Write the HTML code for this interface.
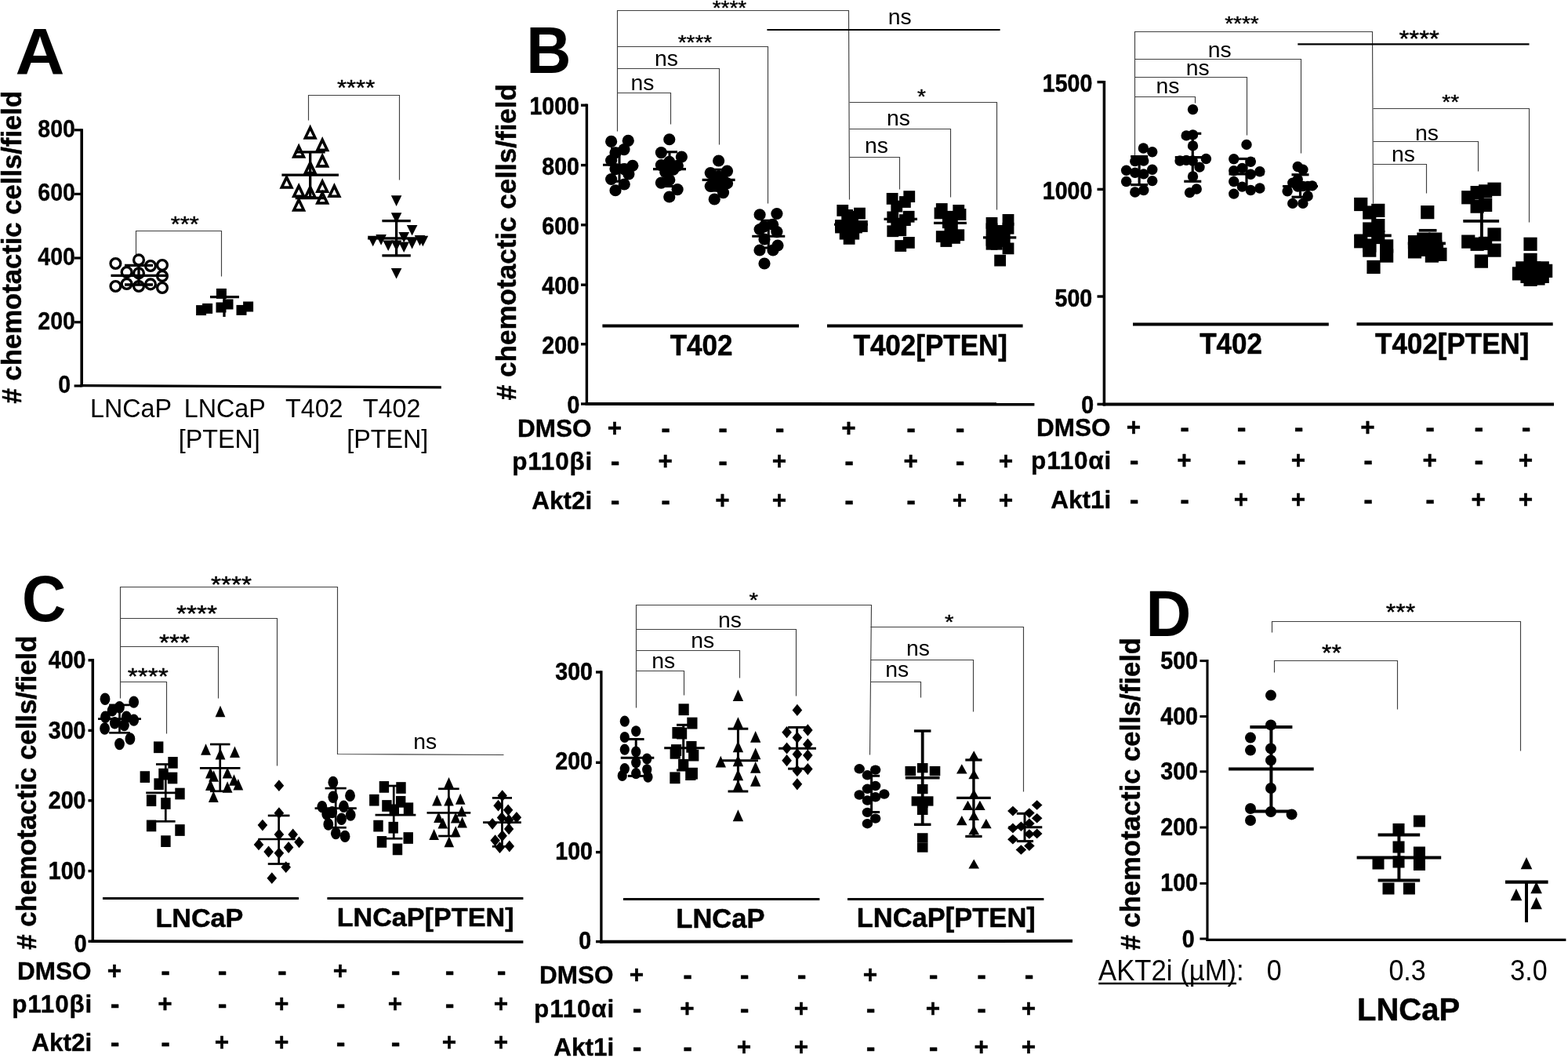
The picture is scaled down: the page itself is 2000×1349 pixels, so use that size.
<!DOCTYPE html>
<html lang="en">
<head>
<meta charset="utf-8">
<title>Chemotaxis figure</title>
<style>
html,body{margin:0;padding:0;background:#fff;}
body{width:2000px;height:1349px;overflow:hidden;font-family:"Liberation Sans",Arial,Helvetica,sans-serif;}
svg{display:block;}
svg text{font-family:"Liberation Sans",Arial,Helvetica,sans-serif;white-space:pre;font-variant-ligatures:none;}
</style>
</head>
<body>
<svg xmlns="http://www.w3.org/2000/svg" width="2000" height="1349" viewBox="0 0 2000 1349" font-family='&quot;Liberation Sans&quot;, Arial, Helvetica, sans-serif' fill="#000">
<text x="0" y="0" font-size="83.5" font-weight="bold" transform="translate(19.52,94.5) scale(1.044,1)">A</text>
<text x="0" y="0" font-size="34.65" font-weight="bold" transform="translate(27,514.41) rotate(-90)" stroke="#000" stroke-width="0.5" stroke-linejoin="round"># chemotactic cells/field</text>
<line x1="104.2" y1="164.2" x2="104.2" y2="493.3" stroke="#000" stroke-width="3.6"/>
<line x1="102.4" y1="491.7" x2="562.8" y2="493.8" stroke="#000" stroke-width="3.2"/>
<line x1="94.6" y1="165.8" x2="104.2" y2="165.8" stroke="#000" stroke-width="3.2"/>
<text x="0" y="0" font-size="29" font-weight="bold" transform="translate(48.31,174.5) scale(0.985,1.09)" stroke="#000" stroke-width="0.3" stroke-linejoin="round">800</text>
<line x1="94.6" y1="247.4" x2="104.2" y2="247.4" stroke="#000" stroke-width="3.2"/>
<text x="0" y="0" font-size="29" font-weight="bold" transform="translate(48.31,256.1) scale(0.985,1.09)" stroke="#000" stroke-width="0.3" stroke-linejoin="round">600</text>
<line x1="94.6" y1="329" x2="104.2" y2="329" stroke="#000" stroke-width="3.2"/>
<text x="0" y="0" font-size="29" font-weight="bold" transform="translate(48.31,337.7) scale(0.985,1.09)" stroke="#000" stroke-width="0.3" stroke-linejoin="round">400</text>
<line x1="94.6" y1="410.8" x2="104.2" y2="410.8" stroke="#000" stroke-width="3.2"/>
<text x="0" y="0" font-size="29" font-weight="bold" transform="translate(48.31,419.5) scale(0.985,1.09)" stroke="#000" stroke-width="0.3" stroke-linejoin="round">200</text>
<line x1="94.6" y1="492" x2="104.2" y2="492" stroke="#000" stroke-width="3.2"/>
<text x="0" y="0" font-size="29" font-weight="bold" transform="translate(74.29,501.1) scale(0.985,1.09)" stroke="#000" stroke-width="0.3" stroke-linejoin="round">0</text>
<text x="114.94" y="532.4" font-size="32.3">LNCaP</text>
<text x="234.74" y="532.4" font-size="32.3">LNCaP</text>
<text x="227.66" y="571.4" font-size="32.3">[PTEN]</text>
<text x="363.97" y="532.4" font-size="32.3">T402</text>
<text x="462.77" y="532.4" font-size="32.3">T402</text>
<text x="442.16" y="571.4" font-size="32.3">[PTEN]</text>
<polyline points="173.5,324.5 173.5,294.5 282.5,294.5 282.5,352.5" fill="none" stroke="#404040" stroke-width="1.15"/>
<text x="0" y="0" font-size="31" transform="translate(217.7,295.18) scale(1,0.9)" stroke="#000" stroke-width="0.45" stroke-linejoin="round">***</text>
<polyline points="393.5,153.5 393.5,121.5 509.5,121.5 509.5,229.5" fill="none" stroke="#404040" stroke-width="1.15"/>
<text x="0" y="0" font-size="31" transform="translate(429.96,120.78) scale(1,0.9)" stroke="#000" stroke-width="0.45" stroke-linejoin="round">****</text>
<text x="0" y="0" font-size="83.5" font-weight="bold" transform="translate(671.25,93) scale(0.95,1)">B</text>
<text x="0" y="0" font-size="35.06" font-weight="bold" transform="translate(658.2,510.21) rotate(-90)" stroke="#000" stroke-width="0.5" stroke-linejoin="round"># chemotactic cells/field</text>
<line x1="748.4" y1="132.5" x2="748.4" y2="517.1" stroke="#000" stroke-width="3.4"/>
<line x1="746.7" y1="515" x2="1319.4" y2="515.4" stroke="#000" stroke-width="4.2"/>
<line x1="741" y1="134.2" x2="748.4" y2="134.2" stroke="#000" stroke-width="3.4"/>
<text x="0" y="0" font-size="29" font-weight="bold" transform="translate(675.46,146.2) scale(0.985,1.09)" stroke="#000" stroke-width="0.5" stroke-linejoin="round">1000</text>
<line x1="741" y1="210.6" x2="748.4" y2="210.6" stroke="#000" stroke-width="3.4"/>
<text x="0" y="0" font-size="29" font-weight="bold" transform="translate(691.31,222.6) scale(0.985,1.09)" stroke="#000" stroke-width="0.5" stroke-linejoin="round">800</text>
<line x1="741" y1="286.8" x2="748.4" y2="286.8" stroke="#000" stroke-width="3.4"/>
<text x="0" y="0" font-size="29" font-weight="bold" transform="translate(691.31,298.8) scale(0.985,1.09)" stroke="#000" stroke-width="0.5" stroke-linejoin="round">600</text>
<line x1="741" y1="363.2" x2="748.4" y2="363.2" stroke="#000" stroke-width="3.4"/>
<text x="0" y="0" font-size="29" font-weight="bold" transform="translate(691.31,375.2) scale(0.985,1.09)" stroke="#000" stroke-width="0.5" stroke-linejoin="round">400</text>
<line x1="741" y1="438.8" x2="748.4" y2="438.8" stroke="#000" stroke-width="3.4"/>
<text x="0" y="0" font-size="29" font-weight="bold" transform="translate(691.31,450.8) scale(0.985,1.09)" stroke="#000" stroke-width="0.5" stroke-linejoin="round">200</text>
<line x1="741" y1="515" x2="748.4" y2="515" stroke="#000" stroke-width="3.4"/>
<text x="0" y="0" font-size="29" font-weight="bold" transform="translate(723.49,527) scale(0.985,1.09)" stroke="#000" stroke-width="0.5" stroke-linejoin="round">0</text>
<polyline points="787.5,167.5 787.5,13.5 1082.5,13.5 1083.5,254.5" fill="none" stroke="#404040" stroke-width="1.15"/>
<polyline points="787.5,59.5 979.5,59.5 979.5,259.5" fill="none" stroke="#404040" stroke-width="1.15"/>
<polyline points="787.5,87.5 917.5,87.5 917.5,184.5" fill="none" stroke="#404040" stroke-width="1.15"/>
<polyline points="787.5,118.5 855.5,118.5 855.5,158.5" fill="none" stroke="#404040" stroke-width="1.15"/>
<polyline points="1083.5,130.5 1271.5,130.5 1271.5,267.5" fill="none" stroke="#404040" stroke-width="1.15"/>
<polyline points="1083.5,164.5 1212.5,164.5 1212.5,251.5" fill="none" stroke="#404040" stroke-width="1.15"/>
<polyline points="1083.5,200.5 1147.5,200.5 1147.5,241.5" fill="none" stroke="#404040" stroke-width="1.15"/>
<line x1="978.4" y1="38" x2="1275.6" y2="38" stroke="#000" stroke-width="2.2"/>
<text x="0" y="0" font-size="28" transform="translate(908.7,18.62) scale(1,0.9)" stroke="#000" stroke-width="0.45" stroke-linejoin="round">****</text>
<text x="0" y="0" font-size="28" transform="translate(864.7,63.12) scale(1,0.9)" stroke="#000" stroke-width="0.45" stroke-linejoin="round">****</text>
<text x="0" y="0" font-size="27" transform="translate(835.08,84.4) scale(1.05,1)">ns</text>
<text x="0" y="0" font-size="27" transform="translate(804.38,115.4) scale(1.05,1)">ns</text>
<text x="0" y="0" font-size="27" transform="translate(1132.78,31.4) scale(1.05,1)">ns</text>
<text x="0" y="0" font-size="28" transform="translate(1170.04,131.72) scale(1,0.9)" stroke="#000" stroke-width="0.45" stroke-linejoin="round">*</text>
<text x="0" y="0" font-size="27" transform="translate(1131.08,160) scale(1.05,1)">ns</text>
<text x="0" y="0" font-size="27" transform="translate(1102.98,195.4) scale(1.05,1)">ns</text>
<line x1="768.4" y1="415.6" x2="1019" y2="415.6" stroke="#000" stroke-width="4"/>
<line x1="1055" y1="415.6" x2="1304.6" y2="415.6" stroke="#000" stroke-width="4"/>
<text x="0" y="0" font-size="34" font-weight="bold" transform="translate(854.65,452.6) scale(1.03,1.075)" stroke="#000" stroke-width="0.5" stroke-linejoin="round">T402</text>
<text x="0" y="0" font-size="34" font-weight="bold" transform="translate(1088.51,452.6) scale(1.03,1.075)" stroke="#000" stroke-width="0.5" stroke-linejoin="round">T402[PTEN]</text>
<text x="0" y="0" font-size="31.5" font-weight="bold" transform="translate(659.94,557) scale(1,1.02)" stroke="#000" stroke-width="0.4" stroke-linejoin="round">DMSO</text>
<text x="784" y="556" font-size="31.5" font-weight="bold" text-anchor="middle" stroke="#000" stroke-width="0.4" stroke-linejoin="round">+</text>
<text x="849.2" y="558.3" font-size="35.28" font-weight="bold" text-anchor="middle" stroke="#000" stroke-width="0.4" stroke-linejoin="round">-</text>
<text x="922" y="558.3" font-size="35.28" font-weight="bold" text-anchor="middle" stroke="#000" stroke-width="0.4" stroke-linejoin="round">-</text>
<text x="994.6" y="558.3" font-size="35.28" font-weight="bold" text-anchor="middle" stroke="#000" stroke-width="0.4" stroke-linejoin="round">-</text>
<text x="1082.4" y="556" font-size="31.5" font-weight="bold" text-anchor="middle" stroke="#000" stroke-width="0.4" stroke-linejoin="round">+</text>
<text x="1162.2" y="558.3" font-size="35.28" font-weight="bold" text-anchor="middle" stroke="#000" stroke-width="0.4" stroke-linejoin="round">-</text>
<text x="1224.6" y="558.3" font-size="35.28" font-weight="bold" text-anchor="middle" stroke="#000" stroke-width="0.4" stroke-linejoin="round">-</text>
<text x="0" y="0" font-size="31.5" font-weight="bold" transform="translate(653.26,599) scale(1,1.02)" stroke="#000" stroke-width="0.4" stroke-linejoin="round" letter-spacing="0.8">p110βi</text>
<text x="784.6" y="600.3" font-size="35.28" font-weight="bold" text-anchor="middle" stroke="#000" stroke-width="0.4" stroke-linejoin="round">-</text>
<text x="848.6" y="598" font-size="31.5" font-weight="bold" text-anchor="middle" stroke="#000" stroke-width="0.4" stroke-linejoin="round">+</text>
<text x="922" y="600.3" font-size="35.28" font-weight="bold" text-anchor="middle" stroke="#000" stroke-width="0.4" stroke-linejoin="round">-</text>
<text x="994" y="598" font-size="31.5" font-weight="bold" text-anchor="middle" stroke="#000" stroke-width="0.4" stroke-linejoin="round">+</text>
<text x="1083" y="600.3" font-size="35.28" font-weight="bold" text-anchor="middle" stroke="#000" stroke-width="0.4" stroke-linejoin="round">-</text>
<text x="1161.6" y="598" font-size="31.5" font-weight="bold" text-anchor="middle" stroke="#000" stroke-width="0.4" stroke-linejoin="round">+</text>
<text x="1224.6" y="600.3" font-size="35.28" font-weight="bold" text-anchor="middle" stroke="#000" stroke-width="0.4" stroke-linejoin="round">-</text>
<text x="1283" y="598" font-size="31.5" font-weight="bold" text-anchor="middle" stroke="#000" stroke-width="0.4" stroke-linejoin="round">+</text>
<text x="0" y="0" font-size="31.5" font-weight="bold" transform="translate(678.29,649) scale(1,1.02)" stroke="#000" stroke-width="0.4" stroke-linejoin="round">Akt2i</text>
<text x="784.6" y="650.3" font-size="35.28" font-weight="bold" text-anchor="middle" stroke="#000" stroke-width="0.4" stroke-linejoin="round">-</text>
<text x="849.2" y="650.3" font-size="35.28" font-weight="bold" text-anchor="middle" stroke="#000" stroke-width="0.4" stroke-linejoin="round">-</text>
<text x="921.4" y="648" font-size="31.5" font-weight="bold" text-anchor="middle" stroke="#000" stroke-width="0.4" stroke-linejoin="round">+</text>
<text x="994" y="648" font-size="31.5" font-weight="bold" text-anchor="middle" stroke="#000" stroke-width="0.4" stroke-linejoin="round">+</text>
<text x="1083" y="650.3" font-size="35.28" font-weight="bold" text-anchor="middle" stroke="#000" stroke-width="0.4" stroke-linejoin="round">-</text>
<text x="1162.2" y="650.3" font-size="35.28" font-weight="bold" text-anchor="middle" stroke="#000" stroke-width="0.4" stroke-linejoin="round">-</text>
<text x="1224" y="648" font-size="31.5" font-weight="bold" text-anchor="middle" stroke="#000" stroke-width="0.4" stroke-linejoin="round">+</text>
<text x="1283" y="648" font-size="31.5" font-weight="bold" text-anchor="middle" stroke="#000" stroke-width="0.4" stroke-linejoin="round">+</text>
<line x1="1408.4" y1="102.9" x2="1408.4" y2="517.4" stroke="#000" stroke-width="3.5"/>
<line x1="1406.65" y1="515.4" x2="1982" y2="515.6" stroke="#000" stroke-width="4"/>
<line x1="1399.5" y1="104.6" x2="1408.4" y2="104.6" stroke="#000" stroke-width="3.4"/>
<text x="0" y="0" font-size="29" font-weight="bold" transform="translate(1329.76,116.6) scale(0.985,1.09)" stroke="#000" stroke-width="0.5" stroke-linejoin="round">1500</text>
<line x1="1399.5" y1="241.4" x2="1408.4" y2="241.4" stroke="#000" stroke-width="3.4"/>
<text x="0" y="0" font-size="29" font-weight="bold" transform="translate(1329.76,254) scale(0.985,1.09)" stroke="#000" stroke-width="0.5" stroke-linejoin="round">1000</text>
<line x1="1399.5" y1="378" x2="1408.4" y2="378" stroke="#000" stroke-width="3.4"/>
<text x="0" y="0" font-size="29" font-weight="bold" transform="translate(1345.61,391) scale(0.985,1.09)" stroke="#000" stroke-width="0.5" stroke-linejoin="round">500</text>
<line x1="1399.5" y1="515.4" x2="1408.4" y2="515.4" stroke="#000" stroke-width="3.4"/>
<text x="0" y="0" font-size="29" font-weight="bold" transform="translate(1379.19,527.4) scale(0.985,1.09)" stroke="#000" stroke-width="0.5" stroke-linejoin="round">0</text>
<polyline points="1447.5,198.5 1447.5,40.5 1750.5,40.5 1751.5,259.5" fill="none" stroke="#404040" stroke-width="1.15"/>
<polyline points="1447.5,75.5 1659.5,75.5 1659.5,195.5" fill="none" stroke="#404040" stroke-width="1.15"/>
<polyline points="1447.5,98.5 1590.5,98.5 1590.5,172.5" fill="none" stroke="#404040" stroke-width="1.15"/>
<polyline points="1447.5,123.5 1524.5,123.5 1524.5,131.5" fill="none" stroke="#404040" stroke-width="1.15"/>
<polyline points="1751.5,138.5 1950.5,138.5 1950.5,283.5" fill="none" stroke="#404040" stroke-width="1.15"/>
<polyline points="1751.5,180.5 1885.5,180.5 1885.5,218.5" fill="none" stroke="#404040" stroke-width="1.15"/>
<polyline points="1751.5,209.5 1819.5,209.5 1819.5,246.5" fill="none" stroke="#404040" stroke-width="1.15"/>
<line x1="1655.3" y1="56.3" x2="1950.5" y2="56.3" stroke="#000" stroke-width="2.2"/>
<text x="0" y="0" font-size="28" transform="translate(1562.19,38.83) scale(1,0.9)" stroke="#000" stroke-width="0.45" stroke-linejoin="round">****</text>
<text x="0" y="0" font-size="27" transform="translate(1540.78,72.8) scale(1.05,1)">ns</text>
<text x="0" y="0" font-size="27" transform="translate(1512.78,96) scale(1.05,1)">ns</text>
<text x="0" y="0" font-size="27" transform="translate(1474.38,119.4) scale(1.05,1)">ns</text>
<text x="0" y="0" font-size="33" transform="translate(1784.5,59.12) scale(1,0.9)" stroke="#000" stroke-width="0.45" stroke-linejoin="round">****</text>
<text x="0" y="0" font-size="28" transform="translate(1839.28,138.82) scale(1,0.9)" stroke="#000" stroke-width="0.45" stroke-linejoin="round">**</text>
<text x="0" y="0" font-size="27" transform="translate(1804.88,178.6) scale(1.05,1)">ns</text>
<text x="0" y="0" font-size="27" transform="translate(1775.08,206.4) scale(1.05,1)">ns</text>
<line x1="1445" y1="413.4" x2="1694.8" y2="413.4" stroke="#000" stroke-width="4"/>
<line x1="1730.5" y1="413.3" x2="1980.7" y2="413.3" stroke="#000" stroke-width="4"/>
<text x="0" y="0" font-size="34" font-weight="bold" transform="translate(1530.15,451) scale(1.03,1.075)" stroke="#000" stroke-width="0.5" stroke-linejoin="round">T402</text>
<text x="0" y="0" font-size="34" font-weight="bold" transform="translate(1754.01,451) scale(1.03,1.075)" stroke="#000" stroke-width="0.5" stroke-linejoin="round">T402[PTEN]</text>
<text x="0" y="0" font-size="31.5" font-weight="bold" transform="translate(1321.94,555.6) scale(1,1.02)" stroke="#000" stroke-width="0.4" stroke-linejoin="round">DMSO</text>
<text x="1446" y="554.6" font-size="31.5" font-weight="bold" text-anchor="middle" stroke="#000" stroke-width="0.4" stroke-linejoin="round">+</text>
<text x="1511" y="556.9" font-size="35.28" font-weight="bold" text-anchor="middle" stroke="#000" stroke-width="0.4" stroke-linejoin="round">-</text>
<text x="1583.6" y="556.9" font-size="35.28" font-weight="bold" text-anchor="middle" stroke="#000" stroke-width="0.4" stroke-linejoin="round">-</text>
<text x="1656.6" y="556.9" font-size="35.28" font-weight="bold" text-anchor="middle" stroke="#000" stroke-width="0.4" stroke-linejoin="round">-</text>
<text x="1744.4" y="554.6" font-size="31.5" font-weight="bold" text-anchor="middle" stroke="#000" stroke-width="0.4" stroke-linejoin="round">+</text>
<text x="1824.2" y="556.9" font-size="35.28" font-weight="bold" text-anchor="middle" stroke="#000" stroke-width="0.4" stroke-linejoin="round">-</text>
<text x="1886.3" y="556.9" font-size="35.28" font-weight="bold" text-anchor="middle" stroke="#000" stroke-width="0.4" stroke-linejoin="round">-</text>
<text x="1946.6" y="556.9" font-size="35.28" font-weight="bold" text-anchor="middle" stroke="#000" stroke-width="0.4" stroke-linejoin="round">-</text>
<text x="0" y="0" font-size="31.5" font-weight="bold" transform="translate(1315.1,598) scale(1,1.02)" stroke="#000" stroke-width="0.4" stroke-linejoin="round" letter-spacing="0.8">p110αi</text>
<text x="1446.6" y="599.3" font-size="35.28" font-weight="bold" text-anchor="middle" stroke="#000" stroke-width="0.4" stroke-linejoin="round">-</text>
<text x="1510.4" y="597" font-size="31.5" font-weight="bold" text-anchor="middle" stroke="#000" stroke-width="0.4" stroke-linejoin="round">+</text>
<text x="1583.6" y="599.3" font-size="35.28" font-weight="bold" text-anchor="middle" stroke="#000" stroke-width="0.4" stroke-linejoin="round">-</text>
<text x="1656" y="597" font-size="31.5" font-weight="bold" text-anchor="middle" stroke="#000" stroke-width="0.4" stroke-linejoin="round">+</text>
<text x="1745" y="599.3" font-size="35.28" font-weight="bold" text-anchor="middle" stroke="#000" stroke-width="0.4" stroke-linejoin="round">-</text>
<text x="1823.6" y="597" font-size="31.5" font-weight="bold" text-anchor="middle" stroke="#000" stroke-width="0.4" stroke-linejoin="round">+</text>
<text x="1886.3" y="599.3" font-size="35.28" font-weight="bold" text-anchor="middle" stroke="#000" stroke-width="0.4" stroke-linejoin="round">-</text>
<text x="1946" y="597" font-size="31.5" font-weight="bold" text-anchor="middle" stroke="#000" stroke-width="0.4" stroke-linejoin="round">+</text>
<text x="0" y="0" font-size="31.5" font-weight="bold" transform="translate(1340.29,648) scale(1,1.02)" stroke="#000" stroke-width="0.4" stroke-linejoin="round">Akt1i</text>
<text x="1446.6" y="649.3" font-size="35.28" font-weight="bold" text-anchor="middle" stroke="#000" stroke-width="0.4" stroke-linejoin="round">-</text>
<text x="1511" y="649.3" font-size="35.28" font-weight="bold" text-anchor="middle" stroke="#000" stroke-width="0.4" stroke-linejoin="round">-</text>
<text x="1583" y="647" font-size="31.5" font-weight="bold" text-anchor="middle" stroke="#000" stroke-width="0.4" stroke-linejoin="round">+</text>
<text x="1656" y="647" font-size="31.5" font-weight="bold" text-anchor="middle" stroke="#000" stroke-width="0.4" stroke-linejoin="round">+</text>
<text x="1745" y="649.3" font-size="35.28" font-weight="bold" text-anchor="middle" stroke="#000" stroke-width="0.4" stroke-linejoin="round">-</text>
<text x="1824.2" y="649.3" font-size="35.28" font-weight="bold" text-anchor="middle" stroke="#000" stroke-width="0.4" stroke-linejoin="round">-</text>
<text x="1885.7" y="647" font-size="31.5" font-weight="bold" text-anchor="middle" stroke="#000" stroke-width="0.4" stroke-linejoin="round">+</text>
<text x="1946" y="647" font-size="31.5" font-weight="bold" text-anchor="middle" stroke="#000" stroke-width="0.4" stroke-linejoin="round">+</text>
<text x="0" y="0" font-size="83.5" font-weight="bold" transform="translate(27.89,792) scale(0.932,1)">C</text>
<text x="0" y="0" font-size="34.8" font-weight="bold" transform="translate(46.3,1210.81) rotate(-90)" stroke="#000" stroke-width="0.5" stroke-linejoin="round"># chemotactic cells/field</text>
<line x1="118.3" y1="840.1" x2="118.3" y2="1202.05" stroke="#000" stroke-width="3.5"/>
<line x1="116.55" y1="1200.2" x2="667.4" y2="1201" stroke="#000" stroke-width="3.7"/>
<line x1="112.5" y1="841.8" x2="118.3" y2="841.8" stroke="#000" stroke-width="3.4"/>
<text x="0" y="0" font-size="29" font-weight="bold" transform="translate(61.81,852) scale(0.985,1.09)" stroke="#000" stroke-width="0.5" stroke-linejoin="round">400</text>
<line x1="112.5" y1="931.4" x2="118.3" y2="931.4" stroke="#000" stroke-width="3.4"/>
<text x="0" y="0" font-size="29" font-weight="bold" transform="translate(61.81,941.6) scale(0.985,1.09)" stroke="#000" stroke-width="0.5" stroke-linejoin="round">300</text>
<line x1="112.5" y1="1020.8" x2="118.3" y2="1020.8" stroke="#000" stroke-width="3.4"/>
<text x="0" y="0" font-size="29" font-weight="bold" transform="translate(61.81,1031) scale(0.985,1.09)" stroke="#000" stroke-width="0.5" stroke-linejoin="round">200</text>
<line x1="112.5" y1="1110.6" x2="118.3" y2="1110.6" stroke="#000" stroke-width="3.4"/>
<text x="0" y="0" font-size="29" font-weight="bold" transform="translate(61.81,1120.8) scale(0.985,1.09)" stroke="#000" stroke-width="0.5" stroke-linejoin="round">100</text>
<line x1="112.5" y1="1200.2" x2="118.3" y2="1200.2" stroke="#000" stroke-width="3.4"/>
<text x="0" y="0" font-size="29" font-weight="bold" transform="translate(94.69,1213.9) scale(0.985,1.09)" stroke="#000" stroke-width="0.5" stroke-linejoin="round">0</text>
<polyline points="153.5,890.5 153.5,748.5 430.5,748.5 430.5,961.5 642.5,962.5" fill="none" stroke="#404040" stroke-width="1.15"/>
<polyline points="153.5,788.5 353.5,788.5 353.5,976.5" fill="none" stroke="#404040" stroke-width="1.15"/>
<polyline points="153.5,824.5 278.5,824.5 278.5,890.5" fill="none" stroke="#404040" stroke-width="1.15"/>
<polyline points="153.5,869.5 212.5,869.5 212.5,935.5" fill="none" stroke="#404040" stroke-width="1.15"/>
<text x="0" y="0" font-size="33.5" transform="translate(268.91,754.93) scale(1,0.9)" stroke="#000" stroke-width="0.45" stroke-linejoin="round">****</text>
<text x="0" y="0" font-size="33.5" transform="translate(224.91,791.93) scale(1,0.9)" stroke="#000" stroke-width="0.45" stroke-linejoin="round">****</text>
<text x="0" y="0" font-size="33.5" transform="translate(202.94,828.93) scale(1,0.9)" stroke="#000" stroke-width="0.45" stroke-linejoin="round">***</text>
<text x="0" y="0" font-size="33.5" transform="translate(162.71,871.93) scale(1,0.9)" stroke="#000" stroke-width="0.45" stroke-linejoin="round">****</text>
<text x="0" y="0" font-size="27" transform="translate(527.28,955.4) scale(1.05,1)">ns</text>
<line x1="131" y1="1145.4" x2="381" y2="1145.4" stroke="#000" stroke-width="3"/>
<line x1="417.4" y1="1145.4" x2="667.4" y2="1145.4" stroke="#000" stroke-width="3"/>
<text x="0" y="0" font-size="34" font-weight="bold" transform="translate(198.41,1182) scale(1.005,1)" stroke="#000" stroke-width="0.5" stroke-linejoin="round">LNCaP</text>
<text x="0" y="0" font-size="34" font-weight="bold" transform="translate(429.65,1181) scale(1.005,1)" stroke="#000" stroke-width="0.5" stroke-linejoin="round">LNCaP[PTEN]</text>
<text x="0" y="0" font-size="31.5" font-weight="bold" transform="translate(21.94,1249) scale(1,1.02)" stroke="#000" stroke-width="0.4" stroke-linejoin="round">DMSO</text>
<text x="146" y="1248" font-size="31.5" font-weight="bold" text-anchor="middle" stroke="#000" stroke-width="0.4" stroke-linejoin="round">+</text>
<text x="211" y="1250.3" font-size="35.28" font-weight="bold" text-anchor="middle" stroke="#000" stroke-width="0.4" stroke-linejoin="round">-</text>
<text x="283.6" y="1250.3" font-size="35.28" font-weight="bold" text-anchor="middle" stroke="#000" stroke-width="0.4" stroke-linejoin="round">-</text>
<text x="359.8" y="1250.3" font-size="35.28" font-weight="bold" text-anchor="middle" stroke="#000" stroke-width="0.4" stroke-linejoin="round">-</text>
<text x="434" y="1248" font-size="31.5" font-weight="bold" text-anchor="middle" stroke="#000" stroke-width="0.4" stroke-linejoin="round">+</text>
<text x="504.6" y="1250.3" font-size="35.28" font-weight="bold" text-anchor="middle" stroke="#000" stroke-width="0.4" stroke-linejoin="round">-</text>
<text x="573.6" y="1250.3" font-size="35.28" font-weight="bold" text-anchor="middle" stroke="#000" stroke-width="0.4" stroke-linejoin="round">-</text>
<text x="639.6" y="1250.3" font-size="35.28" font-weight="bold" text-anchor="middle" stroke="#000" stroke-width="0.4" stroke-linejoin="round">-</text>
<text x="0" y="0" font-size="31.5" font-weight="bold" transform="translate(15.26,1291) scale(1,1.02)" stroke="#000" stroke-width="0.4" stroke-linejoin="round" letter-spacing="0.8">p110βi</text>
<text x="146.6" y="1292.3" font-size="35.28" font-weight="bold" text-anchor="middle" stroke="#000" stroke-width="0.4" stroke-linejoin="round">-</text>
<text x="210.4" y="1290" font-size="31.5" font-weight="bold" text-anchor="middle" stroke="#000" stroke-width="0.4" stroke-linejoin="round">+</text>
<text x="283.6" y="1292.3" font-size="35.28" font-weight="bold" text-anchor="middle" stroke="#000" stroke-width="0.4" stroke-linejoin="round">-</text>
<text x="359.2" y="1290" font-size="31.5" font-weight="bold" text-anchor="middle" stroke="#000" stroke-width="0.4" stroke-linejoin="round">+</text>
<text x="434.6" y="1292.3" font-size="35.28" font-weight="bold" text-anchor="middle" stroke="#000" stroke-width="0.4" stroke-linejoin="round">-</text>
<text x="504" y="1290" font-size="31.5" font-weight="bold" text-anchor="middle" stroke="#000" stroke-width="0.4" stroke-linejoin="round">+</text>
<text x="573.6" y="1292.3" font-size="35.28" font-weight="bold" text-anchor="middle" stroke="#000" stroke-width="0.4" stroke-linejoin="round">-</text>
<text x="639" y="1290" font-size="31.5" font-weight="bold" text-anchor="middle" stroke="#000" stroke-width="0.4" stroke-linejoin="round">+</text>
<text x="0" y="0" font-size="31.5" font-weight="bold" transform="translate(40.29,1340) scale(1,1.02)" stroke="#000" stroke-width="0.4" stroke-linejoin="round">Akt2i</text>
<text x="146.6" y="1341.3" font-size="35.28" font-weight="bold" text-anchor="middle" stroke="#000" stroke-width="0.4" stroke-linejoin="round">-</text>
<text x="211" y="1341.3" font-size="35.28" font-weight="bold" text-anchor="middle" stroke="#000" stroke-width="0.4" stroke-linejoin="round">-</text>
<text x="283" y="1339" font-size="31.5" font-weight="bold" text-anchor="middle" stroke="#000" stroke-width="0.4" stroke-linejoin="round">+</text>
<text x="359.2" y="1339" font-size="31.5" font-weight="bold" text-anchor="middle" stroke="#000" stroke-width="0.4" stroke-linejoin="round">+</text>
<text x="434.6" y="1341.3" font-size="35.28" font-weight="bold" text-anchor="middle" stroke="#000" stroke-width="0.4" stroke-linejoin="round">-</text>
<text x="504.6" y="1341.3" font-size="35.28" font-weight="bold" text-anchor="middle" stroke="#000" stroke-width="0.4" stroke-linejoin="round">-</text>
<text x="573" y="1339" font-size="31.5" font-weight="bold" text-anchor="middle" stroke="#000" stroke-width="0.4" stroke-linejoin="round">+</text>
<text x="639" y="1339" font-size="31.5" font-weight="bold" text-anchor="middle" stroke="#000" stroke-width="0.4" stroke-linejoin="round">+</text>
<line x1="766.9" y1="855.3" x2="766.9" y2="1202.8" stroke="#000" stroke-width="3.3"/>
<line x1="765.25" y1="1200.8" x2="1368" y2="1199.8" stroke="#000" stroke-width="4"/>
<line x1="760" y1="857" x2="766.9" y2="857" stroke="#000" stroke-width="3.4"/>
<text x="0" y="0" font-size="29" font-weight="bold" transform="translate(708.31,867) scale(0.985,1.09)" stroke="#000" stroke-width="0.5" stroke-linejoin="round">300</text>
<line x1="760" y1="972.3" x2="766.9" y2="972.3" stroke="#000" stroke-width="3.4"/>
<text x="0" y="0" font-size="29" font-weight="bold" transform="translate(708.31,981.1) scale(0.985,1.09)" stroke="#000" stroke-width="0.5" stroke-linejoin="round">200</text>
<line x1="760" y1="1086.6" x2="766.9" y2="1086.6" stroke="#000" stroke-width="3.4"/>
<text x="0" y="0" font-size="29" font-weight="bold" transform="translate(708.31,1096.2) scale(0.985,1.09)" stroke="#000" stroke-width="0.5" stroke-linejoin="round">100</text>
<line x1="760" y1="1200.6" x2="766.9" y2="1200.6" stroke="#000" stroke-width="3.4"/>
<text x="0" y="0" font-size="29" font-weight="bold" transform="translate(738.29,1210.2) scale(0.985,1.09)" stroke="#000" stroke-width="0.5" stroke-linejoin="round">0</text>
<polyline points="811.5,902.5 811.5,771.5 1111.5,771.5 1109.5,962.5" fill="none" stroke="#404040" stroke-width="1.15"/>
<polyline points="811.5,802.5 1015.5,802.5 1015.5,887.5" fill="none" stroke="#404040" stroke-width="1.15"/>
<polyline points="811.5,829.5 943.5,829.5 943.5,864.5" fill="none" stroke="#404040" stroke-width="1.15"/>
<polyline points="811.5,855.5 872.5,855.5 872.5,886.5" fill="none" stroke="#404040" stroke-width="1.15"/>
<polyline points="1110.5,799.5 1305.5,799.5 1305.5,1009.5" fill="none" stroke="#404040" stroke-width="1.15"/>
<polyline points="1110.5,841.5 1241.5,841.5 1241.5,907.5" fill="none" stroke="#404040" stroke-width="1.15"/>
<polyline points="1110.5,869.5 1174.5,869.5 1174.5,889.5" fill="none" stroke="#404040" stroke-width="1.15"/>
<text x="0" y="0" font-size="29.5" transform="translate(955.45,773.85) scale(1,0.9)" stroke="#000" stroke-width="0.45" stroke-linejoin="round">*</text>
<text x="0" y="0" font-size="27" transform="translate(915.88,800.4) scale(1.05,1)">ns</text>
<text x="0" y="0" font-size="27" transform="translate(881.28,825.8) scale(1.05,1)">ns</text>
<text x="0" y="0" font-size="27" transform="translate(831.28,852.4) scale(1.05,1)">ns</text>
<text x="0" y="0" font-size="29.5" transform="translate(1204.95,801.85) scale(1,0.9)" stroke="#000" stroke-width="0.45" stroke-linejoin="round">*</text>
<text x="0" y="0" font-size="27" transform="translate(1155.88,836) scale(1.05,1)">ns</text>
<text x="0" y="0" font-size="27" transform="translate(1129.28,862.8) scale(1.05,1)">ns</text>
<line x1="795" y1="1146.4" x2="1045.4" y2="1146.4" stroke="#000" stroke-width="3"/>
<line x1="1081" y1="1146.4" x2="1331.4" y2="1146.4" stroke="#000" stroke-width="3"/>
<text x="0" y="0" font-size="34" font-weight="bold" transform="translate(862.34,1182.6) scale(1.015,1.02)" stroke="#000" stroke-width="0.5" stroke-linejoin="round">LNCaP</text>
<text x="0" y="0" font-size="34" font-weight="bold" transform="translate(1092.73,1181.6) scale(1.015,1.02)" stroke="#000" stroke-width="0.5" stroke-linejoin="round">LNCaP[PTEN]</text>
<text x="0" y="0" font-size="31.5" font-weight="bold" transform="translate(687.94,1254) scale(1,1.02)" stroke="#000" stroke-width="0.4" stroke-linejoin="round">DMSO</text>
<text x="812" y="1253" font-size="31.5" font-weight="bold" text-anchor="middle" stroke="#000" stroke-width="0.4" stroke-linejoin="round">+</text>
<text x="877" y="1255.3" font-size="35.28" font-weight="bold" text-anchor="middle" stroke="#000" stroke-width="0.4" stroke-linejoin="round">-</text>
<text x="949.6" y="1255.3" font-size="35.28" font-weight="bold" text-anchor="middle" stroke="#000" stroke-width="0.4" stroke-linejoin="round">-</text>
<text x="1022.6" y="1255.3" font-size="35.28" font-weight="bold" text-anchor="middle" stroke="#000" stroke-width="0.4" stroke-linejoin="round">-</text>
<text x="1110" y="1253" font-size="31.5" font-weight="bold" text-anchor="middle" stroke="#000" stroke-width="0.4" stroke-linejoin="round">+</text>
<text x="1190.6" y="1255.3" font-size="35.28" font-weight="bold" text-anchor="middle" stroke="#000" stroke-width="0.4" stroke-linejoin="round">-</text>
<text x="1252.2" y="1255.3" font-size="35.28" font-weight="bold" text-anchor="middle" stroke="#000" stroke-width="0.4" stroke-linejoin="round">-</text>
<text x="1312.6" y="1255.3" font-size="35.28" font-weight="bold" text-anchor="middle" stroke="#000" stroke-width="0.4" stroke-linejoin="round">-</text>
<text x="0" y="0" font-size="31.5" font-weight="bold" transform="translate(681.1,1297) scale(1,1.02)" stroke="#000" stroke-width="0.4" stroke-linejoin="round" letter-spacing="0.8">p110αi</text>
<text x="812.6" y="1298.3" font-size="35.28" font-weight="bold" text-anchor="middle" stroke="#000" stroke-width="0.4" stroke-linejoin="round">-</text>
<text x="876.4" y="1296" font-size="31.5" font-weight="bold" text-anchor="middle" stroke="#000" stroke-width="0.4" stroke-linejoin="round">+</text>
<text x="949.6" y="1298.3" font-size="35.28" font-weight="bold" text-anchor="middle" stroke="#000" stroke-width="0.4" stroke-linejoin="round">-</text>
<text x="1022" y="1296" font-size="31.5" font-weight="bold" text-anchor="middle" stroke="#000" stroke-width="0.4" stroke-linejoin="round">+</text>
<text x="1110.6" y="1298.3" font-size="35.28" font-weight="bold" text-anchor="middle" stroke="#000" stroke-width="0.4" stroke-linejoin="round">-</text>
<text x="1190" y="1296" font-size="31.5" font-weight="bold" text-anchor="middle" stroke="#000" stroke-width="0.4" stroke-linejoin="round">+</text>
<text x="1252.2" y="1298.3" font-size="35.28" font-weight="bold" text-anchor="middle" stroke="#000" stroke-width="0.4" stroke-linejoin="round">-</text>
<text x="1312" y="1296" font-size="31.5" font-weight="bold" text-anchor="middle" stroke="#000" stroke-width="0.4" stroke-linejoin="round">+</text>
<text x="0" y="0" font-size="31.5" font-weight="bold" transform="translate(706.29,1346) scale(1,1.02)" stroke="#000" stroke-width="0.4" stroke-linejoin="round">Akt1i</text>
<text x="812.6" y="1347.3" font-size="35.28" font-weight="bold" text-anchor="middle" stroke="#000" stroke-width="0.4" stroke-linejoin="round">-</text>
<text x="877" y="1347.3" font-size="35.28" font-weight="bold" text-anchor="middle" stroke="#000" stroke-width="0.4" stroke-linejoin="round">-</text>
<text x="949" y="1345" font-size="31.5" font-weight="bold" text-anchor="middle" stroke="#000" stroke-width="0.4" stroke-linejoin="round">+</text>
<text x="1022" y="1345" font-size="31.5" font-weight="bold" text-anchor="middle" stroke="#000" stroke-width="0.4" stroke-linejoin="round">+</text>
<text x="1110.6" y="1347.3" font-size="35.28" font-weight="bold" text-anchor="middle" stroke="#000" stroke-width="0.4" stroke-linejoin="round">-</text>
<text x="1190.6" y="1347.3" font-size="35.28" font-weight="bold" text-anchor="middle" stroke="#000" stroke-width="0.4" stroke-linejoin="round">-</text>
<text x="1251.6" y="1345" font-size="31.5" font-weight="bold" text-anchor="middle" stroke="#000" stroke-width="0.4" stroke-linejoin="round">+</text>
<text x="1312" y="1345" font-size="31.5" font-weight="bold" text-anchor="middle" stroke="#000" stroke-width="0.4" stroke-linejoin="round">+</text>
<text x="0" y="0" font-size="83.5" font-weight="bold" transform="translate(1461.6,811) scale(0.958,1)">D</text>
<text x="0" y="0" font-size="34.65" font-weight="bold" transform="translate(1453.5,1211.61) rotate(-90)" stroke="#000" stroke-width="0.5" stroke-linejoin="round"># chemotactic cells/field</text>
<line x1="1540" y1="841.1" x2="1540" y2="1199.9" stroke="#000" stroke-width="3.1"/>
<line x1="1538.45" y1="1198.3" x2="1997.4" y2="1198.4" stroke="#000" stroke-width="3.2"/>
<line x1="1530.4" y1="842.6" x2="1540" y2="842.6" stroke="#000" stroke-width="3"/>
<text x="0" y="0" font-size="29" font-weight="bold" transform="translate(1480.31,852.9) scale(0.985,1.09)" stroke="#000" stroke-width="0.5" stroke-linejoin="round">500</text>
<line x1="1530.4" y1="913.5" x2="1540" y2="913.5" stroke="#000" stroke-width="3"/>
<text x="0" y="0" font-size="29" font-weight="bold" transform="translate(1480.31,923.6) scale(0.985,1.09)" stroke="#000" stroke-width="0.5" stroke-linejoin="round">400</text>
<line x1="1530.4" y1="983.8" x2="1540" y2="983.8" stroke="#000" stroke-width="3"/>
<text x="0" y="0" font-size="29" font-weight="bold" transform="translate(1480.31,994.3) scale(0.985,1.09)" stroke="#000" stroke-width="0.5" stroke-linejoin="round">300</text>
<line x1="1530.4" y1="1055" x2="1540" y2="1055" stroke="#000" stroke-width="3"/>
<text x="0" y="0" font-size="29" font-weight="bold" transform="translate(1480.31,1065.1) scale(0.985,1.09)" stroke="#000" stroke-width="0.5" stroke-linejoin="round">200</text>
<line x1="1530.4" y1="1126.4" x2="1540" y2="1126.4" stroke="#000" stroke-width="3"/>
<text x="0" y="0" font-size="29" font-weight="bold" transform="translate(1480.31,1136.2) scale(0.985,1.09)" stroke="#000" stroke-width="0.5" stroke-linejoin="round">100</text>
<line x1="1530.4" y1="1197" x2="1540" y2="1197" stroke="#000" stroke-width="3"/>
<text x="0" y="0" font-size="29" font-weight="bold" transform="translate(1507.69,1207.5) scale(0.985,1.09)" stroke="#000" stroke-width="0.5" stroke-linejoin="round">0</text>
<polyline points="1622.5,806.5 1622.5,792.5 1939.5,792.5 1939.5,957.5" fill="none" stroke="#404040" stroke-width="1.15"/>
<polyline points="1625.5,857.5 1625.5,842.5 1782.5,842.5 1782.5,904.5" fill="none" stroke="#404040" stroke-width="1.15"/>
<text x="0" y="0" font-size="32" transform="translate(1767.82,789.8) scale(1,0.9)" stroke="#000" stroke-width="0.45" stroke-linejoin="round">***</text>
<text x="0" y="0" font-size="32" transform="translate(1686.02,841.8) scale(1,0.9)" stroke="#000" stroke-width="0.45" stroke-linejoin="round">**</text>
<text x="0" y="0" font-size="34" transform="translate(1401.11,1249.6) scale(1.02,1.06)">AKT2i (µM):</text>
<line x1="1401.2" y1="1254" x2="1577" y2="1254" stroke="#000" stroke-width="2.6"/>
<text x="0" y="0" font-size="34" transform="translate(1615.72,1249.6) scale(1,1.06)">0</text>
<text x="0" y="0" font-size="34" transform="translate(1771.41,1249.6) scale(1,1.06)">0.3</text>
<text x="0" y="0" font-size="34" transform="translate(1926.37,1249.6) scale(1,1.06)">3.0</text>
<text x="0" y="0" font-size="39" font-weight="bold" transform="translate(1731.1,1301.2) scale(1.025,1.055)" stroke="#000" stroke-width="0.5" stroke-linejoin="round">LNCaP</text>
<line x1="177" y1="338.4" x2="177" y2="363" stroke="#000" stroke-width="3.3"/>
<line x1="141.5" y1="351.4" x2="212.5" y2="351.4" stroke="#000" stroke-width="3.3"/>
<line x1="159" y1="338.4" x2="195" y2="338.4" stroke="#000" stroke-width="3.3"/>
<line x1="159" y1="363" x2="195" y2="363" stroke="#000" stroke-width="3.3"/>
<circle cx="147.4" cy="336" r="6.4" fill="#fff" fill-opacity="0" stroke="#000" stroke-width="3.3"/>
<circle cx="177" cy="331.4" r="6.4" fill="#fff" fill-opacity="0" stroke="#000" stroke-width="3.3"/>
<circle cx="192" cy="339" r="6.4" fill="#fff" fill-opacity="0" stroke="#000" stroke-width="3.3"/>
<circle cx="207" cy="338" r="6.4" fill="#fff" fill-opacity="0" stroke="#000" stroke-width="3.3"/>
<circle cx="161.6" cy="347" r="6.4" fill="#fff" fill-opacity="0" stroke="#000" stroke-width="3.3"/>
<circle cx="177" cy="348.4" r="6.4" fill="#fff" fill-opacity="0" stroke="#000" stroke-width="3.3"/>
<circle cx="207" cy="352" r="6.4" fill="#fff" fill-opacity="0" stroke="#000" stroke-width="3.3"/>
<circle cx="147.4" cy="365" r="6.4" fill="#fff" fill-opacity="0" stroke="#000" stroke-width="3.3"/>
<circle cx="161.6" cy="362" r="6.4" fill="#fff" fill-opacity="0" stroke="#000" stroke-width="3.3"/>
<circle cx="177" cy="365" r="6.4" fill="#fff" fill-opacity="0" stroke="#000" stroke-width="3.3"/>
<circle cx="192" cy="362.4" r="6.4" fill="#fff" fill-opacity="0" stroke="#000" stroke-width="3.3"/>
<circle cx="207" cy="367" r="6.4" fill="#fff" fill-opacity="0" stroke="#000" stroke-width="3.3"/>
<line x1="268" y1="378.6" x2="305" y2="378.6" stroke="#000" stroke-width="3.3"/>
<line x1="286" y1="378.6" x2="286" y2="404" stroke="#000" stroke-width="3.3"/>
<rect x="250.1" y="389.1" width="13" height="13"/>
<rect x="258.1" y="386.9" width="13" height="13"/>
<rect x="275.9" y="367.9" width="13" height="13"/>
<rect x="275.5" y="385.5" width="13" height="13"/>
<rect x="284.5" y="381.5" width="13" height="13"/>
<rect x="301.5" y="388.9" width="13" height="13"/>
<rect x="310.1" y="384.5" width="13" height="13"/>
<line x1="395.68" y1="193.92" x2="395.68" y2="252.48" stroke="#000" stroke-width="3.3"/>
<line x1="359.38" y1="223.2" x2="431.98" y2="223.2" stroke="#000" stroke-width="3.3"/>
<line x1="376.68" y1="193.92" x2="414.68" y2="193.92" stroke="#000" stroke-width="3.3"/>
<line x1="376.68" y1="252.48" x2="414.68" y2="252.48" stroke="#000" stroke-width="3.3"/>
<polygon points="395.68,162.73 401.98,175.83 389.38,175.83" fill="none" stroke="#000" stroke-width="3.6" stroke-linejoin="miter"/>
<polygon points="411.2,178.25 417.5,191.35 404.9,191.35" fill="none" stroke="#000" stroke-width="3.6" stroke-linejoin="miter"/>
<polygon points="381.12,186.73 387.42,199.83 374.82,199.83" fill="none" stroke="#000" stroke-width="3.6" stroke-linejoin="miter"/>
<polygon points="411.2,198.73 417.5,211.83 404.9,211.83" fill="none" stroke="#000" stroke-width="3.6" stroke-linejoin="miter"/>
<polygon points="395.68,207.53 401.98,220.63 389.38,220.63" fill="none" stroke="#000" stroke-width="3.6" stroke-linejoin="miter"/>
<polygon points="365.6,225.93 371.9,239.03 359.3,239.03" fill="none" stroke="#000" stroke-width="3.6" stroke-linejoin="miter"/>
<polygon points="381.12,237.13 387.42,250.23 374.82,250.23" fill="none" stroke="#000" stroke-width="3.6" stroke-linejoin="miter"/>
<polygon points="395.68,238.73 401.98,251.83 389.38,251.83" fill="none" stroke="#000" stroke-width="3.6" stroke-linejoin="miter"/>
<polygon points="411.2,231.21 417.5,244.31 404.9,244.31" fill="none" stroke="#000" stroke-width="3.6" stroke-linejoin="miter"/>
<polygon points="426.4,237.13 432.7,250.23 420.1,250.23" fill="none" stroke="#000" stroke-width="3.6" stroke-linejoin="miter"/>
<polygon points="411.2,245.93 417.5,259.03 404.9,259.03" fill="none" stroke="#000" stroke-width="3.6" stroke-linejoin="miter"/>
<polygon points="381.12,254.73 387.42,267.83 374.82,267.83" fill="none" stroke="#000" stroke-width="3.6" stroke-linejoin="miter"/>
<line x1="505.6" y1="281.7" x2="505.6" y2="325.9" stroke="#000" stroke-width="3.3"/>
<line x1="469.1" y1="303.8" x2="542.1" y2="303.8" stroke="#000" stroke-width="3.3"/>
<line x1="487.4" y1="281.7" x2="523.8" y2="281.7" stroke="#000" stroke-width="3.3"/>
<line x1="487.4" y1="325.9" x2="523.8" y2="325.9" stroke="#000" stroke-width="3.3"/>
<polygon points="498.8,271.3 512.4,271.3 505.6,284.9"/>
<polygon points="518.82,286.9 532.42,286.9 525.62,300.5"/>
<polygon points="508.42,296 522.02,296 515.22,309.6"/>
<polygon points="468.9,300.68 482.5,300.68 475.7,314.28"/>
<polygon points="479.3,299.12 492.9,299.12 486.1,312.72"/>
<polygon points="528.7,299.9 542.3,299.9 535.5,313.5"/>
<polygon points="488.4,306.4 502,306.4 495.2,320"/>
<polygon points="498.8,306.4 512.4,306.4 505.6,320"/>
<polygon points="508.42,308.48 522.02,308.48 515.22,322.08"/>
<polygon points="518.82,303.8 532.42,303.8 525.62,317.4"/>
<polygon points="532.6,300.68 546.2,300.68 539.4,314.28"/>
<polygon points="498.8,342.02 512.4,342.02 505.6,355.62"/>
<polygon points="498.8,249.28 512.4,249.28 505.6,262.88"/>
<line x1="790" y1="189.38" x2="790" y2="231.25" stroke="#000" stroke-width="3.1"/>
<line x1="769" y1="210.25" x2="811" y2="210.25" stroke="#000" stroke-width="3.1"/>
<line x1="779" y1="189.38" x2="801" y2="189.38" stroke="#000" stroke-width="3.1"/>
<line x1="779" y1="231.25" x2="801" y2="231.25" stroke="#000" stroke-width="3.1"/>
<circle cx="779.62" cy="180.38" r="7.6"/>
<circle cx="801.25" cy="179.38" r="7.6"/>
<circle cx="796" cy="190.62" r="7.6"/>
<circle cx="785" cy="194.75" r="7.6"/>
<circle cx="779.62" cy="204.62" r="7.6"/>
<circle cx="806.88" cy="211.25" r="7.6"/>
<circle cx="785" cy="215.62" r="7.6"/>
<circle cx="796.25" cy="215.62" r="7.6"/>
<circle cx="801.88" cy="221.88" r="7.6"/>
<circle cx="779.62" cy="228.5" r="7.6"/>
<circle cx="796.25" cy="235" r="7.6"/>
<circle cx="785" cy="242.75" r="7.6"/>
<line x1="854" y1="193.75" x2="854" y2="237.5" stroke="#000" stroke-width="3.1"/>
<line x1="833" y1="215.62" x2="875" y2="215.62" stroke="#000" stroke-width="3.1"/>
<line x1="844" y1="193.75" x2="864" y2="193.75" stroke="#000" stroke-width="3.1"/>
<line x1="844" y1="237.5" x2="864" y2="237.5" stroke="#000" stroke-width="3.1"/>
<circle cx="853.75" cy="177.75" r="7.6"/>
<circle cx="843.38" cy="194.62" r="7.6"/>
<circle cx="869.38" cy="200" r="7.6"/>
<circle cx="853.75" cy="206.25" r="7.6"/>
<circle cx="843.38" cy="210.62" r="7.6"/>
<circle cx="864.38" cy="211.25" r="7.6"/>
<circle cx="848.75" cy="219.38" r="7.6"/>
<circle cx="858.75" cy="216.25" r="7.6"/>
<circle cx="853.75" cy="229.38" r="7.6"/>
<circle cx="843.38" cy="233.12" r="7.6"/>
<circle cx="864.12" cy="241.62" r="7.6"/>
<circle cx="853.75" cy="251" r="7.6"/>
<line x1="916.62" y1="216.25" x2="916.62" y2="243.12" stroke="#000" stroke-width="3.1"/>
<line x1="895.62" y1="229.38" x2="937.62" y2="229.38" stroke="#000" stroke-width="3.1"/>
<line x1="906.62" y1="216.25" x2="926.62" y2="216.25" stroke="#000" stroke-width="3.1"/>
<line x1="906.62" y1="243.12" x2="926.62" y2="243.12" stroke="#000" stroke-width="3.1"/>
<circle cx="916.62" cy="205" r="7.6"/>
<circle cx="906.25" cy="220.62" r="7.6"/>
<circle cx="927.5" cy="218.12" r="7.6"/>
<circle cx="916.62" cy="225" r="7.6"/>
<circle cx="911.25" cy="230" r="7.6"/>
<circle cx="922.5" cy="230" r="7.6"/>
<circle cx="906.25" cy="237.5" r="7.6"/>
<circle cx="927.5" cy="233.75" r="7.6"/>
<circle cx="916.62" cy="237.5" r="7.6"/>
<circle cx="922.5" cy="245.62" r="7.6"/>
<circle cx="911.25" cy="254" r="7.6"/>
<circle cx="916.62" cy="231.25" r="7.6"/>
<line x1="980.25" y1="281.25" x2="980.25" y2="316" stroke="#000" stroke-width="3.1"/>
<line x1="959.25" y1="301.25" x2="1001.25" y2="301.25" stroke="#000" stroke-width="3.1"/>
<line x1="970.25" y1="281.25" x2="990.25" y2="281.25" stroke="#000" stroke-width="3.1"/>
<line x1="970.25" y1="316" x2="990.25" y2="316" stroke="#000" stroke-width="3.1"/>
<circle cx="969.1" cy="273.75" r="7.6"/>
<circle cx="990.9" cy="272.5" r="7.6"/>
<circle cx="985.6" cy="286.25" r="7.6"/>
<circle cx="969.1" cy="292.5" r="7.6"/>
<circle cx="990.9" cy="295.6" r="7.6"/>
<circle cx="974.4" cy="289" r="7.6"/>
<circle cx="975" cy="305" r="7.6"/>
<circle cx="992" cy="313" r="7.6"/>
<circle cx="969" cy="319" r="7.6"/>
<circle cx="986" cy="319" r="7.6"/>
<circle cx="975" cy="336" r="7.6"/>
<line x1="1064" y1="286.25" x2="1106.88" y2="286.25" stroke="#000" stroke-width="3.1"/>
<rect x="1067.35" y="260.98" width="14.8" height="14.8"/>
<rect x="1089.1" y="264.73" width="14.8" height="14.8"/>
<rect x="1073.22" y="266.98" width="14.8" height="14.8"/>
<rect x="1065.1" y="280.1" width="14.8" height="14.8"/>
<rect x="1091.97" y="281.1" width="14.8" height="14.8"/>
<rect x="1078.22" y="275.1" width="14.8" height="14.8"/>
<rect x="1085.1" y="282.6" width="14.8" height="14.8"/>
<rect x="1071.35" y="286.35" width="14.8" height="14.8"/>
<rect x="1070.72" y="290.73" width="14.8" height="14.8"/>
<rect x="1081.35" y="290.73" width="14.8" height="14.8"/>
<rect x="1075.72" y="296.98" width="14.8" height="14.8"/>
<rect x="1080.1" y="268.85" width="14.8" height="14.8"/>
<rect x="1065.1" y="282.6" width="14.8" height="14.8"/>
<line x1="1127.5" y1="279.38" x2="1170" y2="279.38" stroke="#000" stroke-width="3.1"/>
<rect x="1130.72" y="245.97" width="14.8" height="14.8"/>
<rect x="1152.35" y="243.22" width="14.8" height="14.8"/>
<rect x="1146.97" y="250.1" width="14.8" height="14.8"/>
<rect x="1136.35" y="255.72" width="14.8" height="14.8"/>
<rect x="1131.35" y="269.48" width="14.8" height="14.8"/>
<rect x="1151.72" y="268.85" width="14.8" height="14.8"/>
<rect x="1146.97" y="273.23" width="14.8" height="14.8"/>
<rect x="1131.35" y="287.35" width="14.8" height="14.8"/>
<rect x="1141.35" y="286.35" width="14.8" height="14.8"/>
<rect x="1151.97" y="301.98" width="14.8" height="14.8"/>
<rect x="1141.35" y="306.1" width="14.8" height="14.8"/>
<rect x="1136.35" y="280.1" width="14.8" height="14.8"/>
<line x1="1191" y1="284.38" x2="1232.88" y2="284.38" stroke="#000" stroke-width="3.1"/>
<rect x="1193.85" y="259.1" width="14.8" height="14.8"/>
<rect x="1215.35" y="260.98" width="14.8" height="14.8"/>
<rect x="1191.6" y="264.48" width="14.8" height="14.8"/>
<rect x="1217.6" y="266.1" width="14.8" height="14.8"/>
<rect x="1204.47" y="268.85" width="14.8" height="14.8"/>
<rect x="1201.97" y="276.35" width="14.8" height="14.8"/>
<rect x="1206.97" y="280.1" width="14.8" height="14.8"/>
<rect x="1193.85" y="294.23" width="14.8" height="14.8"/>
<rect x="1215.35" y="292.35" width="14.8" height="14.8"/>
<rect x="1210.1" y="295.98" width="14.8" height="14.8"/>
<rect x="1199.47" y="300.1" width="14.8" height="14.8"/>
<rect x="1204.47" y="287.6" width="14.8" height="14.8"/>
<line x1="1254" y1="302.88" x2="1296.25" y2="302.88" stroke="#000" stroke-width="3.1"/>
<rect x="1257.6" y="276.98" width="14.8" height="14.8"/>
<rect x="1278.6" y="272.98" width="14.8" height="14.8"/>
<rect x="1257.6" y="284.48" width="14.8" height="14.8"/>
<rect x="1278.6" y="283.85" width="14.8" height="14.8"/>
<rect x="1268.22" y="286.98" width="14.8" height="14.8"/>
<rect x="1257.6" y="298.85" width="14.8" height="14.8"/>
<rect x="1257.6" y="303.85" width="14.8" height="14.8"/>
<rect x="1268.22" y="300.1" width="14.8" height="14.8"/>
<rect x="1273.85" y="297.6" width="14.8" height="14.8"/>
<rect x="1278.6" y="309.48" width="14.8" height="14.8"/>
<rect x="1268.22" y="324.73" width="14.8" height="14.8"/>
<rect x="1263.85" y="303.85" width="14.8" height="14.8"/>
<line x1="1453.12" y1="199.62" x2="1453.12" y2="235.62" stroke="#000" stroke-width="3.2"/>
<line x1="1442.12" y1="199.62" x2="1464.12" y2="199.62" stroke="#000" stroke-width="3.2"/>
<line x1="1442.12" y1="235.62" x2="1464.12" y2="235.62" stroke="#000" stroke-width="3.2"/>
<circle cx="1458.38" cy="189" r="6.7"/>
<circle cx="1469.75" cy="193.75" r="6.7"/>
<circle cx="1447.75" cy="205.62" r="6.7"/>
<circle cx="1458.75" cy="205" r="6.7"/>
<circle cx="1436.62" cy="217.25" r="6.7"/>
<circle cx="1447.75" cy="220.25" r="6.7"/>
<circle cx="1458.75" cy="221.88" r="6.7"/>
<circle cx="1469.75" cy="216.25" r="6.7"/>
<circle cx="1436.62" cy="231.5" r="6.7"/>
<circle cx="1469.75" cy="230.62" r="6.7"/>
<circle cx="1447.75" cy="245" r="6.7"/>
<circle cx="1458.75" cy="242.5" r="6.7"/>
<line x1="1521.25" y1="170.25" x2="1521.25" y2="231.25" stroke="#000" stroke-width="3.2"/>
<line x1="1498.75" y1="200.62" x2="1543.75" y2="200.62" stroke="#000" stroke-width="3.2"/>
<line x1="1510.25" y1="170.25" x2="1532.25" y2="170.25" stroke="#000" stroke-width="3.2"/>
<line x1="1510.25" y1="231.25" x2="1532.25" y2="231.25" stroke="#000" stroke-width="3.2"/>
<circle cx="1521.5" cy="139.62" r="6.7"/>
<circle cx="1513.12" cy="172.88" r="6.7"/>
<circle cx="1521.5" cy="171.88" r="6.7"/>
<circle cx="1521.5" cy="185.88" r="6.7"/>
<circle cx="1505" cy="205" r="6.7"/>
<circle cx="1513.12" cy="204.38" r="6.7"/>
<circle cx="1538.38" cy="202.5" r="6.7"/>
<circle cx="1530" cy="213.12" r="6.7"/>
<circle cx="1521.5" cy="225" r="6.7"/>
<circle cx="1526.25" cy="241" r="6.7"/>
<circle cx="1517.5" cy="245.62" r="6.7"/>
<circle cx="1521.25" cy="205" r="6.7"/>
<line x1="1590" y1="202.5" x2="1590" y2="240" stroke="#000" stroke-width="3.2"/>
<line x1="1567.5" y1="221.88" x2="1612.5" y2="221.88" stroke="#000" stroke-width="3.2"/>
<line x1="1579.5" y1="202.5" x2="1600.5" y2="202.5" stroke="#000" stroke-width="3.2"/>
<line x1="1579.5" y1="240" x2="1600.5" y2="240" stroke="#000" stroke-width="3.2"/>
<circle cx="1590" cy="184.38" r="6.7"/>
<circle cx="1573.75" cy="202.75" r="6.7"/>
<circle cx="1595.25" cy="206.25" r="6.7"/>
<circle cx="1584.38" cy="214.38" r="6.7"/>
<circle cx="1573.75" cy="217.75" r="6.7"/>
<circle cx="1595.25" cy="222.25" r="6.7"/>
<circle cx="1606.88" cy="218.75" r="6.7"/>
<circle cx="1573.75" cy="231.5" r="6.7"/>
<circle cx="1584.38" cy="238.12" r="6.7"/>
<circle cx="1595.25" cy="242.5" r="6.7"/>
<circle cx="1606.88" cy="240" r="6.7"/>
<circle cx="1573.75" cy="247.12" r="6.7"/>
<line x1="1658.5" y1="222.75" x2="1658.5" y2="251.25" stroke="#000" stroke-width="3.2"/>
<line x1="1636" y1="237.5" x2="1681" y2="237.5" stroke="#000" stroke-width="3.2"/>
<line x1="1647.5" y1="222.75" x2="1669.5" y2="222.75" stroke="#000" stroke-width="3.2"/>
<line x1="1647.5" y1="251.25" x2="1669.5" y2="251.25" stroke="#000" stroke-width="3.2"/>
<circle cx="1655.25" cy="212.5" r="6.7"/>
<circle cx="1661.88" cy="216.25" r="6.7"/>
<circle cx="1648.75" cy="233.12" r="6.7"/>
<circle cx="1655.25" cy="228.75" r="6.7"/>
<circle cx="1668.12" cy="237.5" r="6.7"/>
<circle cx="1673.75" cy="236.88" r="6.7"/>
<circle cx="1655.25" cy="238.12" r="6.7"/>
<circle cx="1642.12" cy="243.75" r="6.7"/>
<circle cx="1668.12" cy="250" r="6.7"/>
<circle cx="1648.75" cy="259.38" r="6.7"/>
<circle cx="1661.88" cy="259.38" r="6.7"/>
<circle cx="1661.88" cy="237.5" r="6.7"/>
<line x1="1727.5" y1="300.4" x2="1774.75" y2="300.4" stroke="#000" stroke-width="3.6"/>
<rect x="1727.12" y="251.9" width="17.2" height="17.2"/>
<rect x="1749.18" y="259.77" width="17.2" height="17.2"/>
<rect x="1738.15" y="262.4" width="17.2" height="17.2"/>
<rect x="1749.18" y="279.02" width="17.2" height="17.2"/>
<rect x="1738.15" y="283.4" width="17.2" height="17.2"/>
<rect x="1727.12" y="299.15" width="17.2" height="17.2"/>
<rect x="1738.15" y="304.4" width="17.2" height="17.2"/>
<rect x="1738.15" y="310.52" width="17.2" height="17.2"/>
<rect x="1760.03" y="305.27" width="17.2" height="17.2"/>
<rect x="1760.03" y="317.52" width="17.2" height="17.2"/>
<rect x="1743.4" y="331.88" width="17.2" height="17.2"/>
<rect x="1749.18" y="293.9" width="17.2" height="17.2"/>
<line x1="1809.75" y1="293.75" x2="1832.5" y2="293.75" stroke="#000" stroke-width="3.6"/>
<line x1="1795.75" y1="310.38" x2="1843.88" y2="310.38" stroke="#000" stroke-width="3.6"/>
<rect x="1812.18" y="262.05" width="17.2" height="17.2"/>
<rect x="1795.9" y="300.02" width="17.2" height="17.2"/>
<rect x="1795.9" y="312.27" width="17.2" height="17.2"/>
<rect x="1807.28" y="296.52" width="17.2" height="17.2"/>
<rect x="1822.15" y="296.52" width="17.2" height="17.2"/>
<rect x="1828.28" y="315.77" width="17.2" height="17.2"/>
<rect x="1817.78" y="317.52" width="17.2" height="17.2"/>
<rect x="1807.28" y="309.65" width="17.2" height="17.2"/>
<rect x="1822.15" y="306.15" width="17.2" height="17.2"/>
<rect x="1811.65" y="304.4" width="17.2" height="17.2"/>
<rect x="1801.15" y="306.15" width="17.2" height="17.2"/>
<rect x="1823.9" y="311.4" width="17.2" height="17.2"/>
<line x1="1866.28" y1="281.85" x2="1912.12" y2="281.85" stroke="#000" stroke-width="3.8"/>
<line x1="1889.9" y1="267.5" x2="1889.9" y2="306" stroke="#000" stroke-width="3.8"/>
<rect x="1897.4" y="232.65" width="17.2" height="17.2"/>
<rect x="1886.03" y="235.28" width="17.2" height="17.2"/>
<rect x="1875.53" y="237.03" width="17.2" height="17.2"/>
<rect x="1864.15" y="243.15" width="17.2" height="17.2"/>
<rect x="1875.53" y="254.53" width="17.2" height="17.2"/>
<rect x="1886.03" y="252.78" width="17.2" height="17.2"/>
<rect x="1897.4" y="290.4" width="17.2" height="17.2"/>
<rect x="1864.15" y="299.5" width="17.2" height="17.2"/>
<rect x="1875.53" y="302.65" width="17.2" height="17.2"/>
<rect x="1886.03" y="301.77" width="17.2" height="17.2"/>
<rect x="1897.4" y="310.52" width="17.2" height="17.2"/>
<rect x="1880.78" y="324.52" width="17.2" height="17.2"/>
<rect x="1943.43" y="302.65" width="17.2" height="17.2"/>
<rect x="1943.43" y="322.77" width="17.2" height="17.2"/>
<rect x="1928.9" y="340.27" width="17.2" height="17.2"/>
<rect x="1933.28" y="333.27" width="17.2" height="17.2"/>
<rect x="1939.4" y="343.77" width="17.2" height="17.2"/>
<rect x="1943.43" y="347.8" width="17.2" height="17.2"/>
<rect x="1948.15" y="333.27" width="17.2" height="17.2"/>
<rect x="1958.65" y="333.27" width="17.2" height="17.2"/>
<rect x="1963.03" y="336.77" width="17.2" height="17.2"/>
<rect x="1958.65" y="343.77" width="17.2" height="17.2"/>
<rect x="1953.4" y="346.4" width="17.2" height="17.2"/>
<rect x="1943.43" y="335.9" width="17.2" height="17.2"/>
<line x1="152.48" y1="898.9" x2="152.48" y2="934.32" stroke="#000" stroke-width="2.7"/>
<line x1="125.04" y1="916.68" x2="179.92" y2="916.68" stroke="#000" stroke-width="2.7"/>
<line x1="139.18" y1="898.9" x2="165.78" y2="898.9" stroke="#000" stroke-width="2.7"/>
<line x1="139.18" y1="934.32" x2="165.78" y2="934.32" stroke="#000" stroke-width="2.7"/>
<ellipse cx="134" cy="891.2" rx="6.4" ry="7.7"/>
<ellipse cx="170.68" cy="895.12" rx="6.4" ry="7.7"/>
<ellipse cx="152.48" cy="901.7" rx="6.4" ry="7.7"/>
<ellipse cx="143.1" cy="905.9" rx="6.4" ry="7.7"/>
<ellipse cx="134.42" cy="914.3" rx="6.4" ry="7.7"/>
<ellipse cx="161.3" cy="914.3" rx="6.4" ry="7.7"/>
<ellipse cx="170.68" cy="918.08" rx="6.4" ry="7.7"/>
<ellipse cx="146.32" cy="921.72" rx="6.4" ry="7.7"/>
<ellipse cx="158.5" cy="924.52" rx="6.4" ry="7.7"/>
<ellipse cx="133.58" cy="929" rx="6.4" ry="7.7"/>
<ellipse cx="165.92" cy="942.02" rx="6.4" ry="7.7"/>
<ellipse cx="152.48" cy="948.6" rx="6.4" ry="7.7"/>
<line x1="211.28" y1="974.5" x2="211.28" y2="1047.3" stroke="#000" stroke-width="2.7"/>
<line x1="211.28" y1="1010.9" x2="211.28" y2="1010.9" stroke="#000" stroke-width="2.7"/>
<line x1="198.96" y1="974.5" x2="223.6" y2="974.5" stroke="#000" stroke-width="2.7"/>
<line x1="198.96" y1="1047.3" x2="223.6" y2="1047.3" stroke="#000" stroke-width="2.7"/>
<line x1="186.22" y1="1010.9" x2="230.6" y2="1010.9" stroke="#000" stroke-width="2.7"/>
<rect x="195.98" y="945.45" width="12.4" height="14.7"/>
<rect x="214.32" y="965.05" width="12.4" height="14.7"/>
<rect x="202.28" y="979.75" width="12.4" height="14.7"/>
<rect x="178.62" y="983.25" width="12.4" height="14.7"/>
<rect x="213.9" y="984.65" width="12.4" height="14.7"/>
<rect x="196.4" y="992.35" width="12.4" height="14.7"/>
<rect x="223.28" y="1004.67" width="12.4" height="14.7"/>
<rect x="186.88" y="1013.35" width="12.4" height="14.7"/>
<rect x="205.22" y="1017.13" width="12.4" height="14.7"/>
<rect x="186.88" y="1045.55" width="12.4" height="14.7"/>
<rect x="223.28" y="1051.15" width="12.4" height="14.7"/>
<rect x="205.22" y="1065.29" width="12.4" height="14.7"/>
<line x1="280.72" y1="949.02" x2="280.72" y2="1008.8" stroke="#000" stroke-width="2.7"/>
<line x1="254.96" y1="979.4" x2="306.48" y2="979.4" stroke="#000" stroke-width="2.7"/>
<line x1="267.98" y1="949.02" x2="293.46" y2="949.02" stroke="#000" stroke-width="2.7"/>
<line x1="267.98" y1="1008.8" x2="293.46" y2="1008.8" stroke="#000" stroke-width="2.7"/>
<polygon points="281,899.75 287.4,914.15 274.6,914.15"/>
<polygon points="262.52,948.26 268.92,962.66 256.12,962.66"/>
<polygon points="299.48,951.48 305.88,965.88 293.08,965.88"/>
<polygon points="281,954 287.4,968.4 274.6,968.4"/>
<polygon points="268.4,978.15 274.8,992.55 262,992.55"/>
<polygon points="290.1,978.15 296.5,992.55 283.7,992.55"/>
<polygon points="298.5,987.25 304.9,1001.65 292.1,1001.65"/>
<polygon points="303.82,993.06 310.22,1007.46 297.42,1007.46"/>
<polygon points="268.4,993.55 274.8,1007.95 262,1007.95"/>
<polygon points="290.1,996.35 296.5,1010.75 283.7,1010.75"/>
<polygon points="272.32,1008.6 278.72,1023 265.92,1023"/>
<polygon points="272.6,982.35 279,996.75 266.2,996.75"/>
<line x1="355.62" y1="1039.92" x2="355.62" y2="1101.52" stroke="#000" stroke-width="2.7"/>
<line x1="329.3" y1="1070.02" x2="376.9" y2="1070.02" stroke="#000" stroke-width="2.7"/>
<line x1="341.76" y1="1039.92" x2="369.48" y2="1039.92" stroke="#000" stroke-width="2.7"/>
<line x1="341.76" y1="1101.52" x2="369.48" y2="1101.52" stroke="#000" stroke-width="2.7"/>
<polygon points="355.9,994.3 362.2,1001.7 355.9,1009.1 349.6,1001.7"/>
<polygon points="355.9,1029.3 362.2,1036.7 355.9,1044.1 349.6,1036.7"/>
<polygon points="334.9,1044.7 341.2,1052.1 334.9,1059.5 328.6,1052.1"/>
<polygon points="355.9,1056.6 362.2,1064 355.9,1071.4 349.6,1064"/>
<polygon points="373.68,1056.6 379.98,1064 373.68,1071.4 367.38,1064"/>
<polygon points="381.52,1066.4 387.82,1073.8 381.52,1081.2 375.22,1073.8"/>
<polygon points="330,1069.48 336.3,1076.88 330,1084.28 323.7,1076.88"/>
<polygon points="368.08,1073.12 374.38,1080.52 368.08,1087.92 361.78,1080.52"/>
<polygon points="342.6,1078.58 348.9,1085.98 342.6,1093.38 336.3,1085.98"/>
<polygon points="355.9,1080.4 362.2,1087.8 355.9,1095.2 349.6,1087.8"/>
<polygon points="364.72,1098.32 371.02,1105.72 364.72,1113.12 358.42,1105.72"/>
<polygon points="346.8,1112.32 353.1,1119.72 346.8,1127.12 340.5,1119.72"/>
<line x1="428.18" y1="1005.08" x2="428.18" y2="1055.2" stroke="#000" stroke-width="2.7"/>
<line x1="401.58" y1="1030.7" x2="454.78" y2="1030.7" stroke="#000" stroke-width="2.7"/>
<line x1="414.6" y1="1005.08" x2="441.76" y2="1005.08" stroke="#000" stroke-width="2.7"/>
<line x1="414.6" y1="1055.2" x2="441.76" y2="1055.2" stroke="#000" stroke-width="2.7"/>
<ellipse cx="424.82" cy="997.52" rx="6.4" ry="7.7"/>
<ellipse cx="446.52" cy="1014.32" rx="6.4" ry="7.7"/>
<ellipse cx="424.82" cy="1016.28" rx="6.4" ry="7.7"/>
<ellipse cx="410.82" cy="1028.6" rx="6.4" ry="7.7"/>
<ellipse cx="438.4" cy="1028.32" rx="6.4" ry="7.7"/>
<ellipse cx="423.7" cy="1035.6" rx="6.4" ry="7.7"/>
<ellipse cx="416.7" cy="1037.7" rx="6.4" ry="7.7"/>
<ellipse cx="447.22" cy="1039.1" rx="6.4" ry="7.7"/>
<ellipse cx="435.6" cy="1044.28" rx="6.4" ry="7.7"/>
<ellipse cx="418.8" cy="1051" rx="6.4" ry="7.7"/>
<ellipse cx="428.32" cy="1062.48" rx="6.4" ry="7.7"/>
<ellipse cx="440.08" cy="1066.4" rx="6.4" ry="7.7"/>
<line x1="502.24" y1="1002" x2="502.24" y2="1069.2" stroke="#000" stroke-width="2.7"/>
<line x1="478.58" y1="1039.1" x2="530.38" y2="1039.1" stroke="#000" stroke-width="2.7"/>
<line x1="491.04" y1="1002" x2="513.44" y2="1002" stroke="#000" stroke-width="2.7"/>
<line x1="491.04" y1="1069.2" x2="513.44" y2="1069.2" stroke="#000" stroke-width="2.7"/>
<rect x="483.72" y="996.05" width="12.4" height="14.7"/>
<rect x="505.28" y="997.17" width="12.4" height="14.7"/>
<rect x="471.12" y="1012.85" width="12.4" height="14.7"/>
<rect x="505" y="1014.95" width="12.4" height="14.7"/>
<rect x="487.22" y="1020.13" width="12.4" height="14.7"/>
<rect x="496.6" y="1025.45" width="12.4" height="14.7"/>
<rect x="514.8" y="1023.35" width="12.4" height="14.7"/>
<rect x="476.3" y="1045.75" width="12.4" height="14.7"/>
<rect x="495.48" y="1047.85" width="12.4" height="14.7"/>
<rect x="514.52" y="1061.15" width="12.4" height="14.7"/>
<rect x="480.78" y="1066.05" width="12.4" height="14.7"/>
<rect x="500.8" y="1075.57" width="12.4" height="14.7"/>
<line x1="572.38" y1="1005.78" x2="572.38" y2="1065.98" stroke="#000" stroke-width="2.7"/>
<line x1="544.52" y1="1036.3" x2="600.24" y2="1036.3" stroke="#000" stroke-width="2.7"/>
<line x1="559.08" y1="1005.78" x2="585.68" y2="1005.78" stroke="#000" stroke-width="2.7"/>
<line x1="559.08" y1="1065.98" x2="585.68" y2="1065.98" stroke="#000" stroke-width="2.7"/>
<polygon points="572.52,990.94 578.82,1004.94 566.22,1004.94"/>
<polygon points="557.4,1013.41 563.7,1027.41 551.1,1027.41"/>
<polygon points="572.52,1013.55 578.82,1027.55 566.22,1027.55"/>
<polygon points="587.22,1011.73 593.52,1025.73 580.92,1025.73"/>
<polygon points="588.9,1027.27 595.2,1041.27 582.6,1041.27"/>
<polygon points="559.5,1035.04 565.8,1049.04 553.2,1049.04"/>
<polygon points="581.2,1035.6 587.5,1049.6 574.9,1049.6"/>
<polygon points="564.82,1042.6 571.12,1056.6 558.52,1056.6"/>
<polygon points="589.6,1041.55 595.9,1055.55 583.3,1055.55"/>
<polygon points="553.62,1056.95 559.92,1070.95 547.32,1070.95"/>
<polygon points="581.2,1053.31 587.5,1067.31 574.9,1067.31"/>
<polygon points="572.8,1066.26 579.1,1080.26 566.5,1080.26"/>
<line x1="640.42" y1="1017.4" x2="640.42" y2="1079.28" stroke="#000" stroke-width="2.7"/>
<line x1="616.06" y1="1048.62" x2="664.78" y2="1048.62" stroke="#000" stroke-width="2.7"/>
<line x1="627.82" y1="1017.4" x2="653.02" y2="1017.4" stroke="#000" stroke-width="2.7"/>
<line x1="627.82" y1="1079.28" x2="653.02" y2="1079.28" stroke="#000" stroke-width="2.7"/>
<polygon points="640.7,1007.2 646.9,1014.6 640.7,1022 634.5,1014.6"/>
<polygon points="635.52,1019.8 641.72,1027.2 635.52,1034.6 629.32,1027.2"/>
<polygon points="648.12,1025.4 654.32,1032.8 648.12,1040.2 641.92,1032.8"/>
<polygon points="658.9,1034.92 665.1,1042.32 658.9,1049.72 652.7,1042.32"/>
<polygon points="640,1035.2 646.2,1042.6 640,1050 633.8,1042.6"/>
<polygon points="649.1,1038 655.3,1045.4 649.1,1052.8 642.9,1045.4"/>
<polygon points="628.1,1042.9 634.3,1050.3 628.1,1057.7 621.9,1050.3"/>
<polygon points="649.1,1049.48 655.3,1056.88 649.1,1064.28 642.9,1056.88"/>
<polygon points="640.7,1058.3 646.9,1065.7 640.7,1073.1 634.5,1065.7"/>
<polygon points="631.6,1064.18 637.8,1071.58 631.6,1078.98 625.4,1071.58"/>
<polygon points="649.8,1071.6 656,1079 649.8,1086.4 643.6,1079"/>
<polygon points="637.48,1073.28 643.68,1080.68 637.48,1088.08 631.28,1080.68"/>
<line x1="811.22" y1="942.52" x2="811.22" y2="989.42" stroke="#000" stroke-width="3"/>
<line x1="791.76" y1="966.18" x2="834.32" y2="966.18" stroke="#000" stroke-width="3"/>
<line x1="800.86" y1="942.52" x2="821.58" y2="942.52" stroke="#000" stroke-width="3"/>
<line x1="800.86" y1="989.42" x2="821.58" y2="989.42" stroke="#000" stroke-width="3"/>
<ellipse cx="796.8" cy="919.7" rx="6.1" ry="7.1"/>
<ellipse cx="811.22" cy="932.3" rx="6.1" ry="7.1"/>
<ellipse cx="796.8" cy="940" rx="6.1" ry="7.1"/>
<ellipse cx="796.8" cy="955.68" rx="6.1" ry="7.1"/>
<ellipse cx="811.22" cy="958.48" rx="6.1" ry="7.1"/>
<ellipse cx="825.22" cy="967.58" rx="6.1" ry="7.1"/>
<ellipse cx="811.22" cy="972.2" rx="6.1" ry="7.1"/>
<ellipse cx="796.8" cy="980.18" rx="6.1" ry="7.1"/>
<ellipse cx="825.22" cy="981.3" rx="6.1" ry="7.1"/>
<ellipse cx="811.22" cy="986.2" rx="6.1" ry="7.1"/>
<ellipse cx="793.72" cy="989" rx="6.1" ry="7.1"/>
<ellipse cx="826.48" cy="990.68" rx="6.1" ry="7.1"/>
<line x1="871.7" y1="924.32" x2="871.7" y2="982" stroke="#000" stroke-width="3"/>
<line x1="847.2" y1="953.72" x2="898.72" y2="953.72" stroke="#000" stroke-width="3"/>
<line x1="863.02" y1="924.32" x2="880.38" y2="924.32" stroke="#000" stroke-width="3"/>
<line x1="863.02" y1="982" x2="880.38" y2="982" stroke="#000" stroke-width="3"/>
<rect x="865.52" y="897.32" width="13.2" height="14.8"/>
<rect x="876.3" y="914.68" width="13.2" height="14.8"/>
<rect x="857.4" y="927" width="13.2" height="14.8"/>
<rect x="863" y="927.7" width="13.2" height="14.8"/>
<rect x="875.32" y="944.92" width="13.2" height="14.8"/>
<rect x="856" y="949.12" width="13.2" height="14.8"/>
<rect x="854.6" y="952.9" width="13.2" height="14.8"/>
<rect x="878.12" y="955.7" width="13.2" height="14.8"/>
<rect x="865.1" y="967.88" width="13.2" height="14.8"/>
<rect x="876.72" y="978.8" width="13.2" height="14.8"/>
<rect x="854.32" y="984.4" width="13.2" height="14.8"/>
<rect x="874.2" y="980.2" width="13.2" height="14.8"/>
<line x1="941.42" y1="929.22" x2="941.42" y2="1009.02" stroke="#000" stroke-width="3"/>
<line x1="921.26" y1="969.68" x2="966.9" y2="969.68" stroke="#000" stroke-width="3"/>
<line x1="928.54" y1="929.22" x2="954.3" y2="929.22" stroke="#000" stroke-width="3"/>
<line x1="928.54" y1="1009.02" x2="954.3" y2="1009.02" stroke="#000" stroke-width="3"/>
<polygon points="941.42,879.19 948.12,893.99 934.72,893.99"/>
<polygon points="941.42,914.26 948.12,929.06 934.72,929.06"/>
<polygon points="963.68,931.97 970.38,946.77 956.98,946.77"/>
<polygon points="941.42,944.5 948.12,959.3 934.72,959.3"/>
<polygon points="963.68,953.39 970.38,968.19 956.98,968.19"/>
<polygon points="919.3,963.75 926,978.55 912.6,978.55"/>
<polygon points="941.42,962.35 948.12,977.15 934.72,977.15"/>
<polygon points="963.68,970.89 970.38,985.69 956.98,985.69"/>
<polygon points="941.42,980.41 948.12,995.21 934.72,995.21"/>
<polygon points="963.68,987.9 970.38,1002.7 956.98,1002.7"/>
<polygon points="941.42,994.2 948.12,1009 934.72,1009"/>
<polygon points="941.42,1032.35 948.12,1047.15 934.72,1047.15"/>
<line x1="1016.6" y1="927.4" x2="1016.6" y2="980.18" stroke="#000" stroke-width="3"/>
<line x1="993.08" y1="954.28" x2="1040.96" y2="954.28" stroke="#000" stroke-width="3"/>
<line x1="1005.12" y1="927.4" x2="1028.08" y2="927.4" stroke="#000" stroke-width="3"/>
<line x1="1005.12" y1="980.18" x2="1028.08" y2="980.18" stroke="#000" stroke-width="3"/>
<polygon points="1016.88,897.82 1023.18,905.42 1016.88,913.02 1010.58,905.42"/>
<polygon points="1030.32,923.3 1036.62,930.9 1030.32,938.5 1024.02,930.9"/>
<polygon points="1003.58,926.1 1009.88,933.7 1003.58,941.3 997.28,933.7"/>
<polygon points="1016.88,932.82 1023.18,940.42 1016.88,948.02 1010.58,940.42"/>
<polygon points="1030.32,941.5 1036.62,949.1 1030.32,956.7 1024.02,949.1"/>
<polygon points="1003.58,946.4 1009.88,954 1003.58,961.6 997.28,954"/>
<polygon points="1016.88,954.1 1023.18,961.7 1016.88,969.3 1010.58,961.7"/>
<polygon points="1030.32,955.5 1036.62,963.1 1030.32,970.7 1024.02,963.1"/>
<polygon points="1003.58,962.08 1009.88,969.68 1003.58,977.28 997.28,969.68"/>
<polygon points="1030.32,973 1036.62,980.6 1030.32,988.2 1024.02,980.6"/>
<polygon points="1016.88,975.1 1023.18,982.7 1016.88,990.3 1010.58,982.7"/>
<polygon points="1016.88,992.18 1023.18,999.78 1016.88,1007.38 1010.58,999.78"/>
<line x1="1111.58" y1="989.28" x2="1111.58" y2="1035.48" stroke="#000" stroke-width="3"/>
<line x1="1111.58" y1="989.28" x2="1122.08" y2="989.28" stroke="#000" stroke-width="3"/>
<line x1="1111.58" y1="1035.48" x2="1122.08" y2="1035.48" stroke="#000" stroke-width="3"/>
<ellipse cx="1096.18" cy="980.32" rx="6.7" ry="6.2"/>
<ellipse cx="1116.62" cy="981.58" rx="6.7" ry="6.2"/>
<ellipse cx="1106.4" cy="988.3" rx="6.7" ry="6.2"/>
<ellipse cx="1116.62" cy="1002.02" rx="6.7" ry="6.2"/>
<ellipse cx="1106.4" cy="1005.8" rx="6.7" ry="6.2"/>
<ellipse cx="1096.18" cy="1013.5" rx="6.7" ry="6.2"/>
<ellipse cx="1127.82" cy="1012.52" rx="6.7" ry="6.2"/>
<ellipse cx="1116.62" cy="1016.3" rx="6.7" ry="6.2"/>
<ellipse cx="1106.4" cy="1020.5" rx="6.7" ry="6.2"/>
<ellipse cx="1106.4" cy="1035.9" rx="6.7" ry="6.2"/>
<ellipse cx="1116.62" cy="1043.6" rx="6.7" ry="6.2"/>
<ellipse cx="1106.4" cy="1050.18" rx="6.7" ry="6.2"/>
<line x1="1176.68" y1="932" x2="1176.68" y2="1051.3" stroke="#000" stroke-width="3.8"/>
<line x1="1154.84" y1="991.8" x2="1198.52" y2="991.8" stroke="#000" stroke-width="3.4"/>
<line x1="1165.9" y1="932" x2="1187.46" y2="932" stroke="#000" stroke-width="3.4"/>
<line x1="1165.9" y1="1051.3" x2="1187.46" y2="1051.3" stroke="#000" stroke-width="3.4"/>
<rect x="1169.88" y="973.05" width="13.6" height="12.3"/>
<rect x="1154.48" y="976.97" width="13.6" height="12.3"/>
<rect x="1185.7" y="976.97" width="13.6" height="12.3"/>
<rect x="1169.88" y="999.93" width="13.6" height="12.3"/>
<rect x="1162.6" y="1015.33" width="13.6" height="12.3"/>
<rect x="1176.88" y="1015.33" width="13.6" height="12.3"/>
<rect x="1169.88" y="1017.85" width="13.6" height="12.3"/>
<rect x="1169.88" y="1026.67" width="13.6" height="12.3"/>
<rect x="1169.88" y="1062.23" width="13.6" height="12.3"/>
<rect x="1169.88" y="1074.41" width="13.6" height="12.3"/>
<line x1="1241.92" y1="968.98" x2="1241.92" y2="1066.42" stroke="#000" stroke-width="3.4"/>
<line x1="1220.08" y1="1017.28" x2="1263.76" y2="1017.28" stroke="#000" stroke-width="3.2"/>
<line x1="1231.28" y1="968.98" x2="1252.56" y2="968.98" stroke="#000" stroke-width="3.2"/>
<line x1="1231.28" y1="1066.42" x2="1252.56" y2="1066.42" stroke="#000" stroke-width="3.2"/>
<polygon points="1242.2,957.35 1249,969.55 1235.4,969.55"/>
<polygon points="1226.8,974.29 1233.6,986.49 1220,986.49"/>
<polygon points="1242.2,981.01 1249,993.21 1235.4,993.21"/>
<polygon points="1242.2,1006.35 1249,1018.55 1235.4,1018.55"/>
<polygon points="1234.5,1020.7 1241.3,1032.9 1227.7,1032.9"/>
<polygon points="1249.9,1020.7 1256.7,1032.9 1243.1,1032.9"/>
<polygon points="1242.2,1033.79 1249,1045.99 1235.4,1045.99"/>
<polygon points="1226.8,1040.09 1233.6,1052.29 1220,1052.29"/>
<polygon points="1257.88,1043.94 1264.68,1056.14 1251.08,1056.14"/>
<polygon points="1242.2,1051.99 1249,1064.19 1235.4,1064.19"/>
<polygon points="1242.2,1095.39 1249,1107.59 1235.4,1107.59"/>
<line x1="1307.02" y1="1037.3" x2="1307.02" y2="1072.58" stroke="#000" stroke-width="3"/>
<line x1="1307.02" y1="1054.8" x2="1307.02" y2="1054.8" stroke="#000" stroke-width="3"/>
<line x1="1296.8" y1="1037.3" x2="1308" y2="1037.3" stroke="#000" stroke-width="3"/>
<line x1="1296.8" y1="1072.58" x2="1318.08" y2="1072.58" stroke="#000" stroke-width="3"/>
<line x1="1286.3" y1="1054.8" x2="1329.28" y2="1054.8" stroke="#000" stroke-width="3"/>
<polygon points="1322.7,1020.22 1329.5,1026.52 1322.7,1032.82 1315.9,1026.52"/>
<polygon points="1291.9,1027.78 1298.7,1034.08 1291.9,1040.38 1285.1,1034.08"/>
<polygon points="1312.9,1030.3 1319.7,1036.6 1312.9,1042.9 1306.1,1036.6"/>
<polygon points="1322.7,1037.02 1329.5,1043.32 1322.7,1049.62 1315.9,1043.32"/>
<polygon points="1312.9,1043.6 1319.7,1049.9 1312.9,1056.2 1306.1,1049.9"/>
<polygon points="1302.4,1047.38 1309.2,1053.68 1302.4,1059.98 1295.6,1053.68"/>
<polygon points="1291.9,1049.62 1298.7,1055.92 1291.9,1062.22 1285.1,1055.92"/>
<polygon points="1312.9,1057.18 1319.7,1063.48 1312.9,1069.78 1306.1,1063.48"/>
<polygon points="1322.7,1056.62 1329.5,1062.92 1322.7,1069.22 1315.9,1062.92"/>
<polygon points="1291.9,1063.9 1298.7,1070.2 1291.9,1076.5 1285.1,1070.2"/>
<polygon points="1312.9,1072.3 1319.7,1078.6 1312.9,1084.9 1306.1,1078.6"/>
<polygon points="1302.4,1077.2 1309.2,1083.5 1302.4,1089.8 1295.6,1083.5"/>
<line x1="1621.4" y1="927" x2="1621.4" y2="1034.4" stroke="#000" stroke-width="4"/>
<line x1="1567.1" y1="980.4" x2="1675.7" y2="980.4" stroke="#000" stroke-width="4"/>
<line x1="1594.4" y1="927" x2="1648.4" y2="927" stroke="#000" stroke-width="4"/>
<line x1="1594.4" y1="1034.4" x2="1648.4" y2="1034.4" stroke="#000" stroke-width="4"/>
<circle cx="1621" cy="886.6" r="7"/>
<circle cx="1621" cy="924.4" r="7"/>
<circle cx="1595" cy="940.6" r="7"/>
<circle cx="1595" cy="956.6" r="7"/>
<circle cx="1621" cy="954.4" r="7"/>
<circle cx="1621" cy="969.4" r="7"/>
<circle cx="1621" cy="1005" r="7"/>
<circle cx="1595" cy="1031" r="7"/>
<circle cx="1621" cy="1035" r="7"/>
<circle cx="1647.6" cy="1038.4" r="7"/>
<circle cx="1595" cy="1046" r="7"/>
<line x1="1784.4" y1="1064.4" x2="1784.4" y2="1122.4" stroke="#000" stroke-width="4"/>
<line x1="1730.6" y1="1093.6" x2="1838.2" y2="1093.6" stroke="#000" stroke-width="4"/>
<line x1="1757.6" y1="1064.4" x2="1811.2" y2="1064.4" stroke="#000" stroke-width="4"/>
<line x1="1757.6" y1="1122.4" x2="1811.2" y2="1122.4" stroke="#000" stroke-width="4"/>
<rect x="1802.9" y="1039.5" width="15" height="15"/>
<rect x="1776.5" y="1049.9" width="15" height="15"/>
<rect x="1776.5" y="1072.5" width="15" height="15"/>
<rect x="1802.9" y="1079.5" width="15" height="15"/>
<rect x="1802.9" y="1094.9" width="15" height="15"/>
<rect x="1776.5" y="1091.5" width="15" height="15"/>
<rect x="1750.5" y="1093.5" width="15" height="15"/>
<rect x="1763.5" y="1125.5" width="15" height="15"/>
<rect x="1789.9" y="1125.5" width="15" height="15"/>
<line x1="1920" y1="1124.6" x2="1974.6" y2="1124.6" stroke="#000" stroke-width="4.4"/>
<line x1="1947" y1="1124.6" x2="1947" y2="1176" stroke="#000" stroke-width="4"/>
<polygon points="1947,1093 1954.3,1108.2 1939.7,1108.2"/>
<polygon points="1959.6,1124 1966.9,1139.2 1952.3,1139.2"/>
<polygon points="1934,1133 1941.3,1148.2 1926.7,1148.2"/>
<polygon points="1959.6,1144 1966.9,1159.2 1952.3,1159.2"/>
</svg>
</body>
</html>
